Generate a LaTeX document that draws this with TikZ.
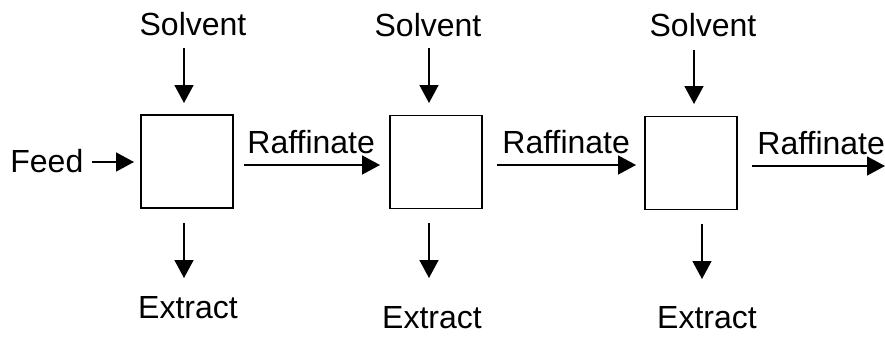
\documentclass[tikz,border=0pt]{standalone}
\usepackage{fontspec}
\setmainfont{Liberation Sans}
\usetikzlibrary{arrows.meta}
\begin{document}
\begin{tikzpicture}[x=0.5pt,y=-0.5pt,
  stage/.style={draw,line width=0.6pt,minimum width=46pt,minimum height=46.5pt,inner sep=0pt},
  lbl/.style={inner sep=0pt,font=\fontsize{16}{19}\selectfont},
  arr/.style={line width=0.8pt,-{Triangle[length=9pt,width=9.5pt]}}]
\useasboundingbox[fill=white] (0,0) rectangle (885,337);
% stages
\node[stage] (b1) at (187,161.5) {};
\node[stage] (b2) at (436,162) {};
\node[stage] (b3) at (691,163) {};
% labels
\node[lbl,anchor=base] (s1) at (193,35) {Solvent};
\node[lbl,anchor=base] (s2) at (428,36) {Solvent};
\node[lbl,anchor=base] (s3) at (703,36) {Solvent};
\node[lbl,anchor=base] (e1) at (188,318) {Extract};
\node[lbl,anchor=base] (e2) at (432,328) {Extract};
\node[lbl,anchor=base] (e3) at (707,328) {Extract};
\node[lbl,anchor=base west] (f) at (10,172) {Feed};
\node[lbl,anchor=base west] (r1) at (247,153) {Raffinate};
\node[lbl,anchor=base west] (r2) at (502,153) {Raffinate};
\node[lbl,anchor=base west] (r3) at (757,155) {Raffinate};
% arrow endpoints
\coordinate (s1a) at (184,48);  \coordinate (s1b) at (184,103);
\coordinate (s2a) at (429,48);  \coordinate (s2b) at (429,103);
\coordinate (s3a) at (694,50);  \coordinate (s3b) at (694,104);
\coordinate (e1a) at (184,223); \coordinate (e1b) at (184,278);
\coordinate (e2a) at (429,223); \coordinate (e2b) at (429,278);
\coordinate (e3a) at (702,224); \coordinate (e3b) at (702,279);
\coordinate (fa) at (92,162);   \coordinate (fb) at (134,162);
\coordinate (r1a) at (244,165); \coordinate (r1b) at (380,165);
\coordinate (r2a) at (497,165); \coordinate (r2b) at (636,165);
\coordinate (r3a) at (752,166); \coordinate (r3b) at (885,166);
% arrows
\draw[arr] (s1a) -- (s1b);
\draw[arr] (s2a) -- (s2b);
\draw[arr] (s3a) -- (s3b);
\draw[arr] (e1a) -- (e1b);
\draw[arr] (e2a) -- (e2b);
\draw[arr] (e3a) -- (e3b);
\draw[arr] (fa) -- (fb);
\draw[arr] (r1a) -- (r1b);
\draw[arr] (r2a) -- (r2b);
\draw[arr] (r3a) -- (r3b);
\end{tikzpicture}
\end{document}
